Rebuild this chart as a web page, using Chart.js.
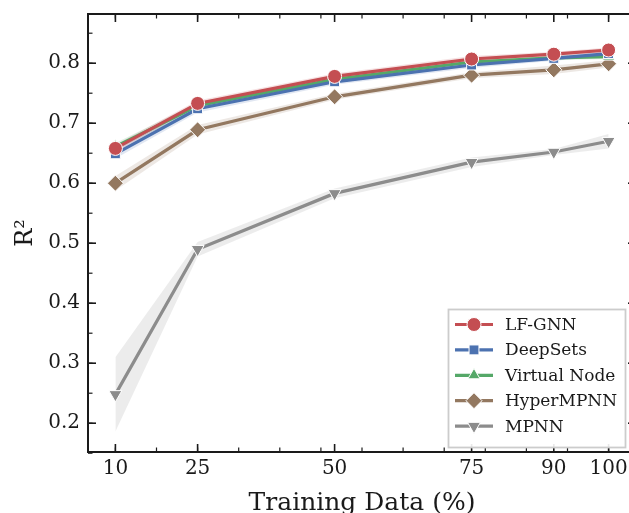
<!DOCTYPE html>
<html><head><meta charset="utf-8">
<script src="https://cdn.jsdelivr.net/npm/chart.js@4"></script>
<style>
html,body{margin:0;padding:0;overflow:hidden;background:#fff;width:629px;height:513px}
#wrap{position:absolute;left:0;top:0;width:645px;height:530px}
</style></head><body>
<div id="wrap"><canvas id="c" width="645" height="530"></canvas></div>
<script>
// ---- data ----
const trainPct = [10, 25, 50, 75, 90, 100];
const lfgnn       = [0.658, 0.733, 0.778, 0.807, 0.815, 0.822];
const deepSets    = [0.649, 0.724, 0.769, 0.797, 0.808, 0.816];
const virtualNode = [0.661, 0.729, 0.773, 0.802, 0.809, 0.811];
const hyperMPNN   = [0.600, 0.689, 0.744, 0.780, 0.789, 0.799];
const mpnn        = [0.248, 0.490, 0.583, 0.635, 0.652, 0.670];
// spread (shaded band half-widths)
const lfgnnStd       = [0.006, 0.005, 0.005, 0.005, 0.004, 0.004];
const deepSetsStd    = [0.008, 0.006, 0.005, 0.005, 0.004, 0.004];
const virtualNodeStd = [0.006, 0.005, 0.004, 0.004, 0.004, 0.004];
const hyperMPNNStd   = [0.012, 0.008, 0.005, 0.005, 0.007, 0.006];
const mpnnStd        = [0.062, 0.012, 0.008, 0.008, 0.005, 0.012];
const seriesNames = ['LF-GNN', 'DeepSets', 'Virtual Node', 'HyperMPNN', 'MPNN'];
const xTickValues = [10, 25, 50, 75, 90, 100];
const yTickValues = [0.2, 0.3, 0.4, 0.5, 0.6, 0.7, 0.8];

const FONT = "'DejaVu Serif', serif";
const styles = [
  {color:'#C44E52', pt:'circle',   r:7,   rot:0},
  {color:'#4C72B0', pt:'rect',     r:7,   rot:0},
  {color:'#55A868', pt:'triangle', r:7,   rot:0},
  {color:'#937860', pt:'rectRot',  r:8,   rot:0},
  {color:'#8C8C8C', pt:'triangle', r:7.5, rot:180},
];
const means = [lfgnn, deepSets, virtualNode, hyperMPNN, mpnn];
const stds = [lfgnnStd, deepSetsStd, virtualNodeStd, hyperMPNNStd, mpnnStd];

function rgba(hex, a){
  const n = parseInt(hex.slice(1),16);
  return `rgba(${n>>16},${(n>>8)&255},${n&255},${a})`;
}
const pts = arr => arr.map((v,i)=>({x:trainPct[i], y:v}));

const datasets = [];
means.forEach((m,i)=>{
  const s = styles[i];
  datasets.push({
    label: seriesNames[i], data: pts(m), order: i,
    borderColor: s.color, backgroundColor: s.color, borderWidth: 3.2,
    pointStyle: s.pt, pointRadius: s.r, pointRotation: s.rot,
    pointBackgroundColor: s.color, pointBorderColor: '#ffffff', pointBorderWidth: 1,
    fill: false, tension: 0
  });
});
means.forEach((m,i)=>{
  const s = styles[i];
  const lowIdx = datasets.length;
  datasets.push({label:'_lo'+i, data: pts(m.map((v,k)=>v-stds[i][k])), order: 20+i,
    borderWidth:0, pointRadius:0, fill:false, borderColor:'rgba(0,0,0,0)'});
  datasets.push({label:'_hi'+i, data: pts(m.map((v,k)=>v+stds[i][k])), order: 20+i,
    borderWidth:0, pointRadius:0, borderColor:'rgba(0,0,0,0)',
    fill: {target: lowIdx}, backgroundColor: rgba(s.color, 0.17)});
});

const axesPlugin = {
  id: 'mplAxes',
  afterDatasetsDraw(chart){
    const {ctx, chartArea:a, scales:{x, y}} = chart;
    ctx.save();
    ctx.strokeStyle = '#1a1a1a';
    const seg = (x1,y1,x2,y2)=>{ctx.beginPath();ctx.moveTo(x1,y1);ctx.lineTo(x2,y2);ctx.stroke();};
    ctx.lineWidth = 1.6;
    xTickValues.forEach(v=>{const p=x.getPixelForValue(v); seg(p,a.bottom,p,a.bottom-8); seg(p,a.top,p,a.top+8);});
    ctx.lineWidth = 1.2;
    for(let v=10; v<=100.01; v+=7.5){const p=x.getPixelForValue(v); seg(p,a.bottom,p,a.bottom-4.5); seg(p,a.top,p,a.top+4.5);}
    ctx.lineWidth = 1.6;
    yTickValues.forEach(v=>{const p=y.getPixelForValue(v); seg(a.left,p,a.left+8,p); seg(a.right,p,a.right-8,p);});
    ctx.lineWidth = 1.2;
    for(let v=0.15; v<=0.86; v+=0.05){const p=y.getPixelForValue(v); seg(a.left,p,a.left+4.5,p); seg(a.right,p,a.right-4.5,p);}
    ctx.lineWidth = 2;
    ctx.strokeRect(a.left, a.top, a.right-a.left, a.bottom-a.top);
    ctx.restore();
  },
  afterDraw(chart){
    const ctx = chart.ctx;
    const bx = 448.5, by = 309.5, bw = 177, bh = 138;
    ctx.save();
    ctx.fillStyle = 'rgba(255,255,255,0.9)';
    ctx.fillRect(bx, by, bw, bh);
    ctx.strokeStyle = '#cccccc';
    ctx.lineWidth = 1.8;
    ctx.strokeRect(bx, by, bw, bh);
    ctx.font = `17px ${FONT}`;
    ctx.textBaseline = 'middle';
    ctx.textAlign = 'left';
    seriesNames.forEach((name,i)=>{
      const s = styles[i];
      const yy = 324.5 + i*25.4;
      ctx.strokeStyle = s.color; ctx.lineWidth = 3.2;
      ctx.beginPath(); ctx.moveTo(455, yy); ctx.lineTo(493, yy); ctx.stroke();
      ctx.fillStyle = s.color; ctx.strokeStyle = '#fff'; ctx.lineWidth = 1;
      Chart.helpers.drawPoint(ctx, {pointStyle:s.pt, radius:s.r, rotation:s.rot, borderWidth:1}, 474, yy);
      ctx.fillStyle = '#1a1a1a';
      ctx.fillText(name, 505, yy+1);
    });
    ctx.restore();
  }
};

new Chart(document.getElementById('c'), {
  type: 'line',
  data: {datasets},
  options: {
    responsive: false, animation: false, devicePixelRatio: 1,
    layout: {padding: {top: 14, right: 9, left: 0, bottom: 0}},
    plugins: {legend: {display: false}, tooltip: {enabled: false}},
    scales: {
      x: {
        type: 'linear', min: 5, max: 105,
        grid: {display: false, drawTicks: false}, border: {display: false},
        afterBuildTicks(s){ s.ticks = xTickValues.map(v=>({value:v})); },
        ticks: {font: {family: FONT, size: 20}, color: '#1a1a1a', padding: 5, maxRotation: 0, autoSkip: false,
                callback: v => String(v)},
        title: {display: true, text: 'Training Data (%)', color: '#1a1a1a',
                font: {family: FONT, size: 25}, padding: {top: 0, bottom: 12}},
        afterFit(s){ s.height = 78; s.paddingLeft = 0; s.paddingRight = 0; }
      },
      y: {
        type: 'linear', min: 0.152, max: 0.882,
        grid: {display: false, drawTicks: false}, border: {display: false},
        afterBuildTicks(s){ s.ticks = yTickValues.map(v=>({value:v})); },
        ticks: {font: {family: FONT, size: 20}, color: '#1a1a1a', padding: 8, autoSkip: false,
                callback: v => v.toFixed(1)},
        title: {display: true, text: 'R²', color: '#1a1a1a',
                font: {family: FONT, size: 24}, padding: {top: 11, bottom: 0}},
        afterFit(s){ s.width = 88; s.paddingTop = 0; s.paddingBottom = 0; }
      }
    }
  },
  plugins: [axesPlugin]
});
</script>
</body></html>
